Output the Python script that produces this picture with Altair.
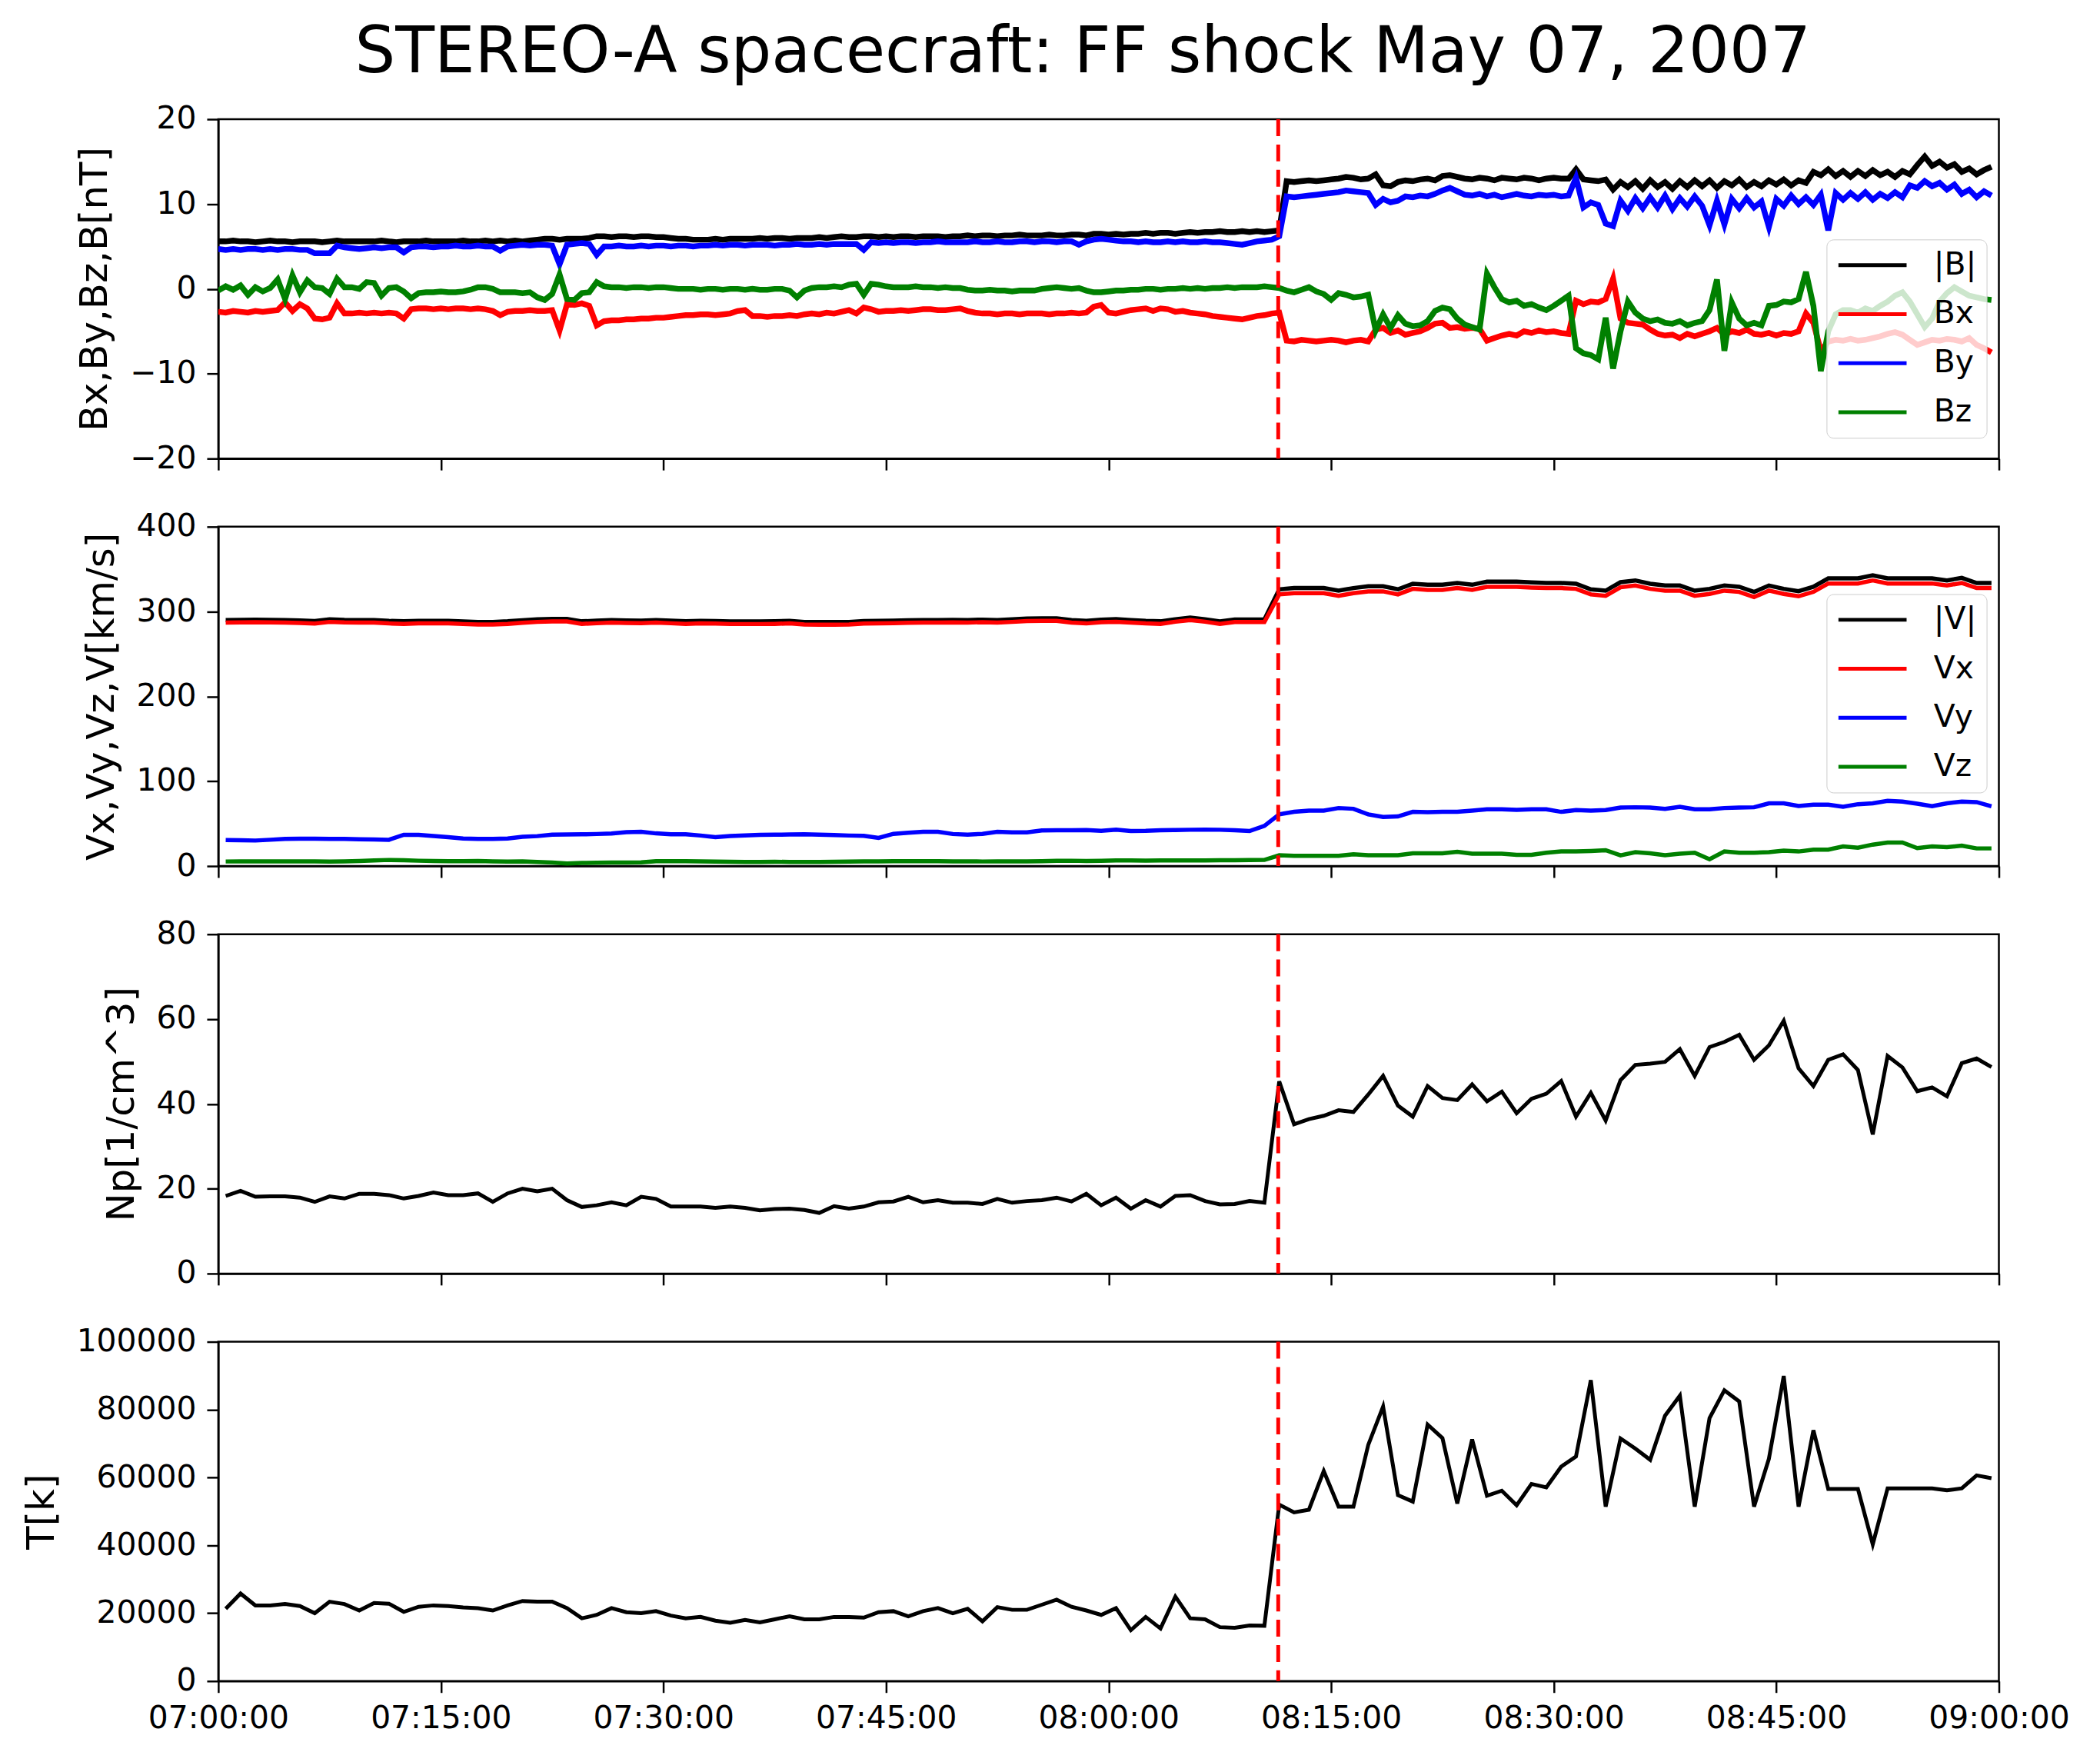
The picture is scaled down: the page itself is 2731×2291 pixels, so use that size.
import altair as alt
import pandas as pd

TITLE = "STEREO-A spacecraft: FF shock May 07, 2007"
T0 = pd.Timestamp("2007-05-07 07:00:00")
SHOCK_TIME = "2007-05-07T08:11:26"
X_TICKS = ["07:00", "07:15", "07:30", "07:45", "08:00", "08:15", "08:30", "08:45", "09:00"]

# ---------------- magnetic field, 30 s samples (nT) ----------------
B_T = [
    5.6, 5.6, 5.7, 5.6, 5.6, 5.5, 5.6, 5.7, 5.6, 5.6, 5.5, 5.6, 5.6, 5.6, 5.5, 5.6, 5.7, 5.6, 5.6, 5.6,
    5.6, 5.6, 5.7, 5.6, 5.5, 5.6, 5.6, 5.6, 5.7, 5.6, 5.6, 5.6, 5.6, 5.7, 5.6, 5.6, 5.7, 5.6, 5.7, 5.6,
    5.7, 5.6, 5.7, 5.8, 5.9, 5.9, 5.8, 5.9, 5.9, 5.9, 6.0, 6.2, 6.2, 6.1, 6.2, 6.2, 6.1, 6.2, 6.2, 6.1,
    6.1, 6.0, 5.9, 5.9, 5.8, 5.8, 5.8, 5.9, 5.8, 5.9, 5.9, 5.9, 5.9, 6.0, 5.9, 6.0, 6.0, 5.9, 6.0, 6.0,
    6.0, 6.1, 6.0, 6.1, 6.2, 6.1, 6.1, 6.2, 6.2, 6.1, 6.2, 6.1, 6.2, 6.2, 6.1, 6.2, 6.2, 6.2, 6.1, 6.2,
    6.2, 6.3, 6.2, 6.3, 6.3, 6.2, 6.3, 6.3, 6.4, 6.3, 6.3, 6.3, 6.4, 6.3, 6.3, 6.4, 6.4, 6.3, 6.5, 6.5,
    6.4, 6.5, 6.4, 6.5, 6.5, 6.6, 6.5, 6.6, 6.6, 6.5, 6.6, 6.7, 6.6, 6.7, 6.7, 6.8, 6.7, 6.7, 6.8, 6.7,
    6.8, 6.7, 6.8, 6.9, 12.7, 12.6, 12.7, 12.8, 12.7, 12.8, 12.9, 13.0, 13.2, 13.1, 12.9, 13.0, 13.5, 12.2, 12.1, 12.6,
    12.8, 12.7, 12.9, 13.0, 12.8, 13.3, 13.4, 13.2, 13.0, 12.9, 13.1, 13.0, 12.8, 13.1, 13.0, 12.9, 13.1, 13.0, 12.8, 13.0,
    13.1, 13.0, 13.0, 14.1, 12.9, 12.8, 12.7, 12.9, 11.7, 12.6, 12.0, 12.7, 11.8, 12.8, 12.0, 12.6, 11.8, 12.7, 12.0, 12.8,
    12.1, 12.8, 11.9, 12.7, 12.2, 12.9, 12.0, 12.6, 12.1, 12.8, 12.3, 12.9, 12.2, 12.8, 12.5, 13.8, 13.4, 14.1, 13.3, 13.9,
    13.2, 13.9, 13.3, 14.0, 13.4, 13.8, 13.2, 13.9, 13.5, 14.6, 15.6, 14.5, 15.0, 14.3, 14.7, 13.8, 14.2, 13.5, 14.0, 14.4,
]
B_X = [
    -2.7, -2.8, -2.6, -2.7, -2.8, -2.6, -2.7, -2.6, -2.5, -1.6, -2.6, -1.8, -2.3, -3.5, -3.6, -3.4, -1.7, -2.9, -2.9, -2.8,
    -2.9, -2.8, -2.9, -2.8, -2.9, -3.5, -2.4, -2.3, -2.3, -2.4, -2.3, -2.4, -2.3, -2.3, -2.4, -2.3, -2.4, -2.6, -3.1, -2.7,
    -2.6, -2.6, -2.5, -2.6, -2.6, -2.5, -4.9, -1.8, -1.9, -1.7, -2.0, -4.3, -3.8, -3.7, -3.7, -3.6, -3.6, -3.5, -3.5, -3.4,
    -3.4, -3.3, -3.2, -3.1, -3.1, -3.0, -3.0, -3.1, -3.0, -2.9, -2.6, -2.5, -3.2, -3.2, -3.3, -3.2, -3.2, -3.1, -3.2, -3.0,
    -2.9, -3.0, -2.8, -2.9, -2.7, -2.5, -2.9, -2.2, -2.4, -2.7, -2.6, -2.6, -2.5, -2.6, -2.5, -2.4, -2.4, -2.5, -2.5, -2.4,
    -2.3, -2.6, -2.8, -2.9, -2.9, -3.0, -2.9, -2.9, -3.0, -2.9, -2.9, -2.9, -3.0, -2.9, -2.9, -2.8, -2.9, -2.8, -2.1, -1.9,
    -2.8, -2.9, -2.7, -2.5, -2.4, -2.3, -2.6, -2.3, -2.4, -2.7, -2.6, -2.8, -2.9, -3.0, -3.2, -3.3, -3.4, -3.5, -3.6, -3.4,
    -3.2, -3.1, -2.9, -2.8, -6.1, -6.2, -6.0, -6.1, -6.2, -6.1, -6.0, -6.1, -6.3, -6.1, -6.0, -6.2, -4.8, -4.6, -5.2, -4.9,
    -5.4, -5.2, -5.0, -4.6, -4.1, -4.0, -4.6, -4.5, -4.7, -4.6, -4.7, -6.1, -5.8, -5.5, -5.3, -5.5, -5.0, -5.2, -4.9, -5.1,
    -5.0, -5.2, -5.3, -1.4, -1.8, -1.5, -1.6, -1.2, 1.2, -3.5, -4.0, -4.1, -4.2, -4.8, -5.3, -5.5, -5.4, -5.8, -5.3, -5.6,
    -5.3, -5.0, -4.6, -5.4, -5.0, -5.2, -4.8, -5.3, -5.4, -5.2, -5.5, -5.2, -5.3, -5.0, -2.9, -4.0, -7.3, -6.2, -6.0, -6.1,
    -5.9, -6.1, -6.0, -5.8, -5.6, -5.3, -5.1, -5.4, -6.0, -6.6, -6.3, -6.0, -6.1, -5.9, -6.0, -6.2, -5.8, -6.6, -7.0, -7.5,
]
B_Y = [
    4.7, 4.6, 4.7, 4.6, 4.7, 4.7, 4.6, 4.7, 4.6, 4.7, 4.7, 4.6, 4.6, 4.2, 4.2, 4.2, 5.1, 4.9, 4.8, 4.7,
    4.8, 4.9, 4.8, 4.9, 4.9, 4.3, 4.9, 5.0, 5.0, 4.9, 5.0, 5.0, 5.1, 5.0, 5.0, 5.1, 5.0, 5.0, 4.5, 5.0,
    5.1, 5.2, 5.1, 5.2, 5.2, 5.1, 2.9, 5.2, 5.3, 5.4, 5.3, 4.0, 5.0, 5.0, 5.1, 5.0, 5.0, 5.1, 5.0, 5.1,
    5.1, 5.0, 5.1, 5.1, 5.0, 5.1, 5.1, 5.2, 5.1, 5.2, 5.2, 5.1, 5.2, 5.2, 5.2, 5.1, 5.2, 5.2, 5.3, 5.2,
    5.2, 5.3, 5.2, 5.3, 5.3, 5.3, 5.3, 4.6, 5.5, 5.4, 5.5, 5.4, 5.5, 5.5, 5.4, 5.5, 5.5, 5.6, 5.5, 5.5,
    5.5, 5.5, 5.6, 5.5, 5.5, 5.6, 5.5, 5.5, 5.6, 5.6, 5.5, 5.6, 5.6, 5.5, 5.6, 5.6, 5.2, 5.6, 5.8, 5.9,
    5.8, 5.7, 5.6, 5.6, 5.5, 5.6, 5.5, 5.5, 5.6, 5.5, 5.6, 5.5, 5.5, 5.6, 5.5, 5.5, 5.4, 5.3, 5.2, 5.4,
    5.6, 5.7, 5.8, 6.2, 10.9, 10.8, 10.9, 11.0, 11.1, 11.2, 11.3, 11.4, 11.6, 11.5, 11.4, 11.3, 9.9, 10.6, 10.2, 10.4,
    10.9, 10.8, 11.0, 10.9, 11.2, 11.6, 11.9, 11.5, 11.1, 11.0, 11.2, 10.9, 11.1, 10.8, 11.0, 11.2, 11.0, 10.9, 11.1, 11.0,
    11.1, 10.9, 11.0, 13.1, 9.6, 10.2, 9.9, 7.7, 7.4, 10.4, 9.2, 10.7, 9.5, 10.8, 9.6, 11.0, 9.4, 10.7, 9.7, 10.9,
    9.8, 7.5, 10.4, 7.6, 10.6, 9.5, 10.7, 9.6, 10.3, 7.3, 10.6, 9.8, 11.0, 10.0, 10.8, 9.9, 11.1, 6.9, 11.3, 10.5,
    11.3, 10.6, 11.4, 10.5, 11.2, 10.7, 11.4, 10.8, 12.2, 11.9, 12.7, 12.1, 12.5, 11.7, 12.3, 11.2, 11.7, 10.8, 11.5, 11.0,
]
B_Z = [
    -0.2, 0.3, -0.1, 0.4, -0.7, 0.2, -0.3, 0.1, 1.1, -1.2, 1.6, -0.4, 1.0, 0.2, 0.1, -0.6, 1.2, 0.2, 0.2, 0.0,
    0.8, 0.7, -0.8, 0.1, 0.2, -0.3, -1.1, -0.5, -0.4, -0.4, -0.3, -0.4, -0.4, -0.3, -0.1, 0.2, 0.2, 0.0, -0.4, -0.4,
    -0.4, -0.5, -0.4, -1.0, -1.3, -0.6, 1.7, -1.2, -1.3, -0.5, -0.4, 0.8, 0.3, 0.2, 0.2, 0.1, 0.2, 0.2, 0.1, 0.2,
    0.2, 0.1, 0.0, 0.0, 0.0, -0.1, 0.0, 0.0, -0.1, 0.0, 0.0, -0.1, 0.0, -0.1, -0.1, 0.0, 0.0, -0.2, -1.0, -0.2,
    0.1, 0.2, 0.2, 0.3, 0.2, 0.5, 0.6, -0.7, 0.6, 0.5, 0.3, 0.2, 0.2, 0.2, 0.3, 0.2, 0.2, 0.1, 0.2, 0.1,
    0.1, -0.1, -0.2, -0.2, -0.1, -0.2, -0.2, -0.3, -0.2, -0.2, -0.2, 0.0, 0.1, 0.2, 0.1, 0.0, 0.1, -0.2, -0.4, -0.4,
    -0.3, -0.2, -0.2, -0.1, -0.1, 0.0, 0.0, -0.1, 0.0, 0.0, 0.1, 0.0, 0.1, 0.0, 0.1, 0.1, 0.2, 0.1, 0.2, 0.2,
    0.2, 0.3, 0.2, 0.1, -0.2, -0.4, -0.1, 0.2, -0.3, -0.6, -1.3, -0.5, -0.7, -1.0, -0.9, -0.7, -4.9, -3.0, -4.6, -3.1,
    -4.1, -4.4, -4.3, -3.8, -2.6, -2.2, -2.4, -3.5, -4.2, -4.5, -4.8, 1.8, 0.2, -1.2, -1.6, -1.4, -2.0, -1.8, -2.2, -2.5,
    -2.0, -1.4, -0.8, -7.0, -7.6, -7.8, -8.3, -3.4, -9.4, -5.0, -1.5, -2.8, -3.5, -3.8, -3.6, -4.0, -4.1, -3.8, -4.3, -4.0,
    -3.8, -2.5, 1.1, -7.3, -1.6, -3.5, -4.3, -4.0, -4.3, -2.0, -1.9, -1.5, -1.6, -1.2, 2.0, -2.0, -9.7, -5.0, -3.0, -2.5,
    -2.5, -2.8, -2.3, -2.6, -2.0, -1.5, -0.8, -0.4, -1.5, -3.0, -4.5, -3.5, -1.5, -0.5, 0.2, -0.3, -0.8, -1.0, -1.2, -1.3,
]

# ---------------- plasma, 1 min samples ----------------
V_T = [
    290.0, 290.3, 290.5, 290.2, 290.0, 289.5, 288.8, 290.8, 290.2, 290.0, 290.0, 289.0, 288.5, 289.0, 289.0,
    289.0, 288.3, 287.8, 287.8, 288.5, 289.8, 290.8, 291.3, 291.3, 288.5, 289.2, 290.0, 289.5, 289.3, 290.0,
    289.2, 288.5, 289.0, 288.8, 288.3, 288.3, 288.3, 288.5, 289.0, 287.8, 287.6, 287.6, 287.8, 288.8, 289.0,
    289.3, 289.8, 290.0, 290.0, 290.3, 290.0, 290.5, 290.0, 290.8, 291.8, 292.1, 292.1, 290.0, 289.0, 290.5,
    291.0, 290.0, 289.0, 288.5, 291.0, 293.0, 291.0, 288.5, 290.6, 290.6, 290.6,
    326.2, 327.7, 327.7, 327.7, 324.6, 327.7, 329.8, 329.8, 326.2, 332.8, 331.6, 331.6, 333.7, 331.6, 335.2,
    335.2, 335.2, 334.3, 333.7, 333.7, 332.8, 326.2, 324.6, 334.6, 336.7, 332.8, 330.7, 330.7, 324.6, 326.8,
    330.7, 329.2, 323.1, 330.7, 326.8, 324.0, 329.2, 339.1, 339.1, 339.1, 342.7, 339.1, 339.1, 339.1, 339.1,
    336.7, 339.7, 333.7, 333.7,
]
V_X = [
    287.0, 287.3, 287.5, 287.2, 287.0, 286.5, 285.8, 287.8, 287.2, 287.0, 287.0, 286.0, 285.5, 286.0, 286.0,
    286.0, 285.3, 284.8, 284.8, 285.5, 286.8, 287.8, 288.3, 288.3, 285.5, 286.2, 287.0, 286.5, 286.3, 287.0,
    286.2, 285.5, 286.0, 285.8, 285.3, 285.3, 285.3, 285.5, 286.0, 284.8, 284.6, 284.6, 284.8, 285.8, 286.0,
    286.3, 286.8, 287.0, 287.0, 287.3, 287.0, 287.5, 287.0, 287.8, 288.8, 289.1, 289.1, 287.0, 286.0, 287.5,
    288.0, 287.0, 286.0, 285.5, 288.0, 290.0, 288.0, 285.5, 287.6, 287.6, 287.6,
    320.2, 321.7, 321.7, 321.7, 318.6, 321.7, 323.8, 323.8, 320.2, 326.8, 325.6, 325.6, 327.7, 325.6, 329.2,
    329.2, 329.2, 328.3, 327.7, 327.7, 326.8, 320.2, 318.6, 328.6, 330.7, 326.8, 324.7, 324.7, 318.6, 320.8,
    324.7, 323.2, 317.1, 324.7, 320.8, 318.0, 323.2, 333.1, 333.1, 333.1, 336.7, 333.1, 333.1, 333.1, 333.1,
    330.7, 333.7, 327.7, 327.7,
]
V_Y = [
    30.7, 30.4, 30.1, 31.0, 32.0, 32.3, 32.3, 32.0, 32.0, 31.5, 31.3, 31.0, 36.8, 36.8, 35.5,
    34.0, 32.5, 32.0, 32.0, 32.5, 34.5, 35.3, 37.0, 37.2, 37.4, 37.8, 38.3, 40.0, 40.4, 38.5,
    37.5, 37.5, 36.0, 34.0, 35.5, 36.2, 36.8, 37.0, 37.2, 37.4, 37.0, 36.5, 36.0, 35.6, 33.2,
    38.0, 39.2, 40.4, 40.4, 37.8, 37.0, 38.0, 40.4, 39.8, 39.8, 42.0, 42.2, 42.2, 42.5, 41.5,
    42.8, 41.3, 41.5, 42.2, 42.5, 42.8, 43.0, 42.8, 42.2, 41.3, 47.3,
    60.9, 63.9, 65.4, 65.4, 68.4, 67.5, 60.9, 57.9, 58.5, 63.9, 63.5, 63.9, 63.9, 65.4, 66.9,
    66.9, 66.3, 66.9, 66.9, 63.9, 66.0, 65.4, 66.0, 69.0, 69.3, 69.0, 67.5, 69.9, 66.9, 66.9,
    68.4, 69.0, 69.3, 73.9, 73.9, 70.8, 72.3, 72.3, 69.9, 72.9, 73.9, 76.9, 76.0, 73.5, 70.5,
    73.9, 76.0, 75.4, 70.5,
]
V_Z = [
    5.4, 5.5, 5.5, 5.6, 5.6, 5.6, 5.5, 5.3, 5.6, 6.0, 6.6, 7.2, 6.8, 6.3, 6.0,
    5.8, 5.7, 5.9, 5.5, 5.2, 5.6, 4.8, 4.2, 3.0, 3.6, 4.0, 4.2, 4.2, 4.4, 5.7,
    5.8, 5.7, 5.5, 5.2, 5.0, 4.9, 4.8, 5.0, 4.9, 4.8, 4.8, 5.0, 5.2, 5.5, 5.5,
    5.7, 5.8, 5.8, 5.7, 5.6, 5.5, 5.4, 5.5, 5.6, 5.6, 5.8, 6.2, 6.3, 6.0, 6.2,
    6.6, 6.6, 6.5, 6.6, 6.7, 6.6, 6.6, 6.8, 6.8, 7.0, 7.2,
    12.7, 12.1, 12.1, 12.1, 12.1, 13.9, 12.7, 12.7, 12.7, 15.1, 15.1, 15.1, 16.9, 14.5, 14.5,
    14.5, 13.3, 13.3, 15.7, 17.2, 17.2, 17.8, 18.7, 12.7, 16.3, 15.1, 12.7, 14.5, 15.7, 8.1,
    17.2, 15.7, 15.7, 16.3, 18.1, 17.2, 19.3, 19.3, 23.2, 21.7, 25.3, 27.7, 27.7, 21.1, 23.2,
    22.3, 24.1, 20.8, 20.8,
]
NP = [
    18.3, 19.5, 18.1, 18.2, 18.2, 17.9, 16.9, 18.2, 17.7, 18.8, 18.8, 18.5, 17.7, 18.3, 19.1,
    18.5, 18.5, 18.9, 16.9, 18.9, 20.0, 19.4, 20.0, 17.3, 15.7, 16.1, 16.8, 16.1, 18.1, 17.6,
    15.8, 15.8, 15.8, 15.5, 15.8, 15.5, 14.9, 15.2, 15.3, 15.0, 14.3, 15.9, 15.3, 15.8, 16.8,
    17.0, 18.1, 16.8, 17.3, 16.7, 16.7, 16.4, 17.6, 16.7, 17.1, 17.3, 17.9, 17.0, 18.8, 16.1,
    17.9, 15.3, 17.3, 15.8, 18.3, 18.5, 17.1, 16.3, 16.4, 17.1, 16.7,
    45.3, 35.2, 36.4, 37.2, 38.5, 38.1, 42.2, 46.6, 39.6, 37.0, 44.2, 41.4, 40.9, 44.6, 40.6,
    42.9, 37.8, 41.2, 42.4, 45.4, 37.0, 42.6, 36.1, 45.6, 49.2, 49.5, 49.9, 52.9, 46.6, 53.4,
    54.6, 56.3, 50.4, 53.8, 59.6, 48.4, 44.2, 50.4, 51.7, 48.0, 32.8, 51.3, 48.6, 43.0, 43.9,
    41.8, 49.6, 50.7, 48.7,
]
TEMP = [
    21300, 25800, 22300, 22300, 22700, 22100, 20000, 23400, 22700, 20800, 23000, 22800, 20400, 21900, 22300,
    22100, 21700, 21500, 20800, 22300, 23600, 23400, 23400, 21500, 18500, 19500, 21500, 20300, 20000, 20600,
    19300, 18500, 18900, 17800, 17200, 18000, 17300, 18200, 19100, 18200, 18200, 18900, 18900, 18700, 20300,
    20600, 19100, 20600, 21500, 20000, 21300, 17600, 21800, 21000, 21000, 22500, 24000, 21900, 20800, 19500,
    21500, 15000, 18900, 15500, 24900, 18500, 18200, 15900, 15700, 16400, 16300,
    52000, 49700, 50500, 61900, 51400, 51400, 69600, 80900, 54800, 52900, 75600, 71600, 52300, 71200, 54600,
    56100, 51800, 58100, 57100, 63200, 66200, 88700, 51400, 71500, 68500, 65200, 78200, 84100, 51400, 77500,
    85700, 82400, 51400, 65500, 89900, 51400, 73900, 56600, 56600, 56600, 40300, 56800, 56800, 56800, 56800,
    56200, 56800, 60600, 59800,
]

for arr in (B_T, B_X, B_Y, B_Z):
    assert len(arr) == 240, len(arr)
for arr in (V_T, V_X, V_Y, V_Z, NP, TEMP):
    assert len(arr) == 120, len(arr)

FMT = "%Y-%m-%dT%H:%M:%S"
b_times = [(T0 + pd.Timedelta(seconds=30 * j)).strftime(FMT) for j in range(240)]
p_times = [(T0 + pd.Timedelta(seconds=30 + 60 * k)).strftime(FMT) for k in range(120)]

def long_df(times, series):
    rows = []
    for name, vals in series:
        for t, v in zip(times, vals):
            rows.append({"time": t, "series": name, "value": v})
    return pd.DataFrame(rows)

b_df = long_df(b_times, [("|B|", B_T), ("Bx", B_X), ("By", B_Y), ("Bz", B_Z)])
v_df = long_df(p_times, [("|V|", V_T), ("Vx", V_X), ("Vy", V_Y), ("Vz", V_Z)])
np_df = pd.DataFrame({"time": p_times, "value": NP})
t_df = pd.DataFrame({"time": p_times, "value": TEMP})
shock_df = pd.DataFrame({"time": [SHOCK_TIME]})

W, H = 2325, 443
FONT = "DejaVu Sans"
COLORS = ["black", "red", "blue", "green"]

def dt(hm):
    h, m = hm.split(":")
    return alt.DateTime(year=2007, month=5, date=7, hours=int(h), minutes=int(m))

x_domain = [dt("07:00"), dt("09:00")]
x_values = [dt(s) for s in X_TICKS]

def x_enc(show_labels):
    return alt.X(
        "time:T",
        scale=alt.Scale(domain=x_domain),
        axis=alt.Axis(title=None, values=x_values, format="%H:%M:%S",
                      labels=show_labels, labelFlush=False, labelLimit=1000),
    )

def y_enc(title, dom, ticks, fmt):
    return alt.Y(
        "value:Q",
        scale=alt.Scale(domain=dom, nice=False, zero=False),
        axis=alt.Axis(title=title, values=ticks, format=fmt),
    )

shock = alt.Chart(shock_df).mark_rule(color="red", strokeDash=[22, 11], strokeWidth=5).encode(
    x=alt.X("time:T")
)

def legend(ly):
    return alt.Legend(
        title=None, orient="none", legendX=2100, legendY=ly,
        fillColor="rgba(255,255,255,0.8)", strokeColor="#cccccc", cornerRadius=9,
        padding=13, symbolType="stroke", symbolSize=7921, symbolStrokeWidth=5,
        labelFontSize=41, labelFont=FONT, labelColor="black", labelOffset=33,
        clipHeight=41, rowPadding=22, symbolOpacity=1, labelLimit=500,
    )

def vector_panel(df, names, title, dom, ticks, ly, sw):
    layers = []
    for name in names:
        layers.append(
            alt.Chart(df).transform_filter(alt.datum.series == name)
            .mark_line(strokeWidth=sw, clip=True)
            .encode(
                x=x_enc(False),
                y=y_enc(title, dom, ticks, "d"),
                color=alt.Color("series:N", scale=alt.Scale(domain=names, range=COLORS),
                                legend=legend(ly)),
            )
        )
    return alt.layer(*layers, shock).properties(width=W, height=H)

def scalar_panel(df, title, dom, ticks, show_labels):
    line = alt.Chart(df).mark_line(strokeWidth=5, color="black", clip=True).encode(
        x=x_enc(show_labels), y=y_enc(title, dom, ticks, "d")
    )
    return alt.layer(line, shock).properties(width=W, height=H)

p1 = vector_panel(b_df, ["|B|", "Bx", "By", "Bz"], "Bx,By,Bz,B[nT]", [-20, 20], [-20, -10, 0, 10, 20], 157, 7.5)
p2 = vector_panel(v_df, ["|V|", "Vx", "Vy", "Vz"], "Vx,Vy,Vz,V[km/s]", [0, 400], [0, 100, 200, 300, 400], 88, 5.5)
p3 = scalar_panel(np_df, "Np[1/cm^3]", [0, 80], [0, 20, 40, 60, 80], False)
p4 = scalar_panel(t_df, "T[k]", [0, 100000], [0, 20000, 40000, 60000, 80000, 100000], True)

chart = (
    alt.vconcat(p1, p2, p3, p4, spacing=89, bounds="flush")
    .resolve_scale(color="independent")
    .properties(
        title=alt.TitleParams(TITLE, fontSize=83.5, font=FONT, fontWeight="normal",
                              anchor="middle", color="black", offset=22, dx=48),
        padding={"left": 20, "top": 14, "right": 30, "bottom": 20},
        background="white",
    )
    .configure_view(stroke="black", strokeWidth=2.5)
    .configure_axis(
        domainColor="black", domainWidth=2.5, tickColor="black", tickWidth=2.5, tickSize=15,
        labelFont=FONT, labelFontSize=41, labelColor="black", labelPadding=14,
        titleFont=FONT, titleFontSize=50, titleFontWeight="normal", titleColor="black",
        titlePadding=20, grid=False, labelLimit=1000,
    )
)

chart.save("out.html", embed_options={"renderer": "svg", "actions": False})
